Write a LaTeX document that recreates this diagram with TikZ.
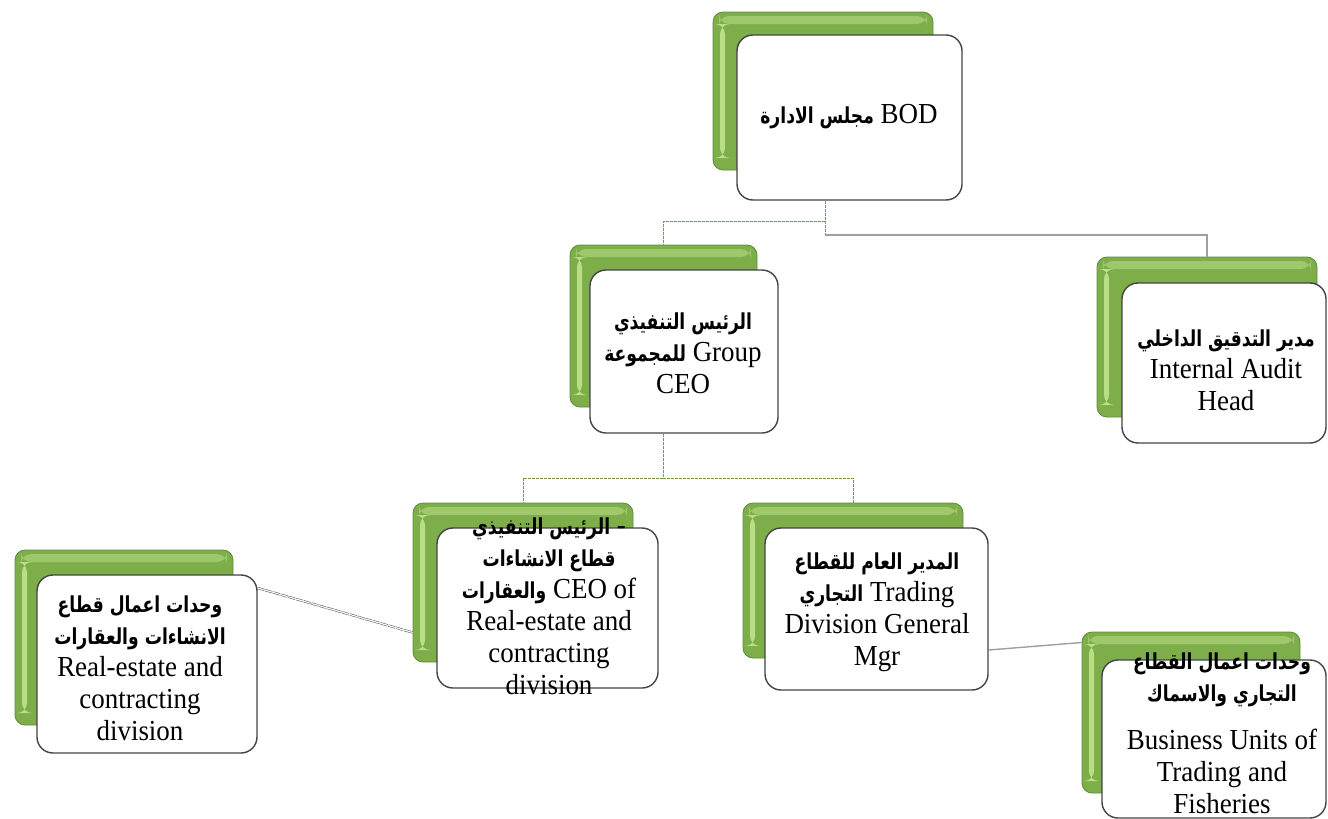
\documentclass[tikz,border=0pt]{standalone}
\usepackage{fontspec}
\setmainfont[FakeStretch=0.93]{Liberation Serif}
\newfontfamily\ar[Script=Arabic,FakeStretch=0.78]{DejaVu Sans}
\TeXXeTstate=1
\newcommand{\AR}[1]{{\ar\bfseries\fontsize{22}{32}\selectfont\beginR #1\endR}}
\newcommand{\latinfont}{\fontsize{29}{32}\selectfont\lineskiplimit=-60pt\lineskip=0pt}
\definecolor{gmain}{HTML}{7DAE4A}
\definecolor{glight}{HTML}{B9DE86}
\definecolor{gdark}{HTML}{5F8C37}
\definecolor{boxline}{HTML}{444444}
\definecolor{lgreen}{HTML}{6FA03C}
\begin{document}
\begin{tikzpicture}[x=1pt,y=-1pt,
  greenbox/.style={draw=gdark, line width=0.8pt, fill=gmain, rounded corners=10pt, inner sep=0pt,
    path picture={
      \fill[glight!55!gmain] ([xshift=6pt,yshift=-4pt]path picture bounding box.north west) rectangle ([xshift=-6pt,yshift=-12pt]path picture bounding box.north east);
      \fill[glight] ([xshift=7pt,yshift=-12pt]path picture bounding box.north west) rectangle ([xshift=12pt,yshift=12pt]path picture bounding box.south west);
    }},
  whitebox/.style={draw=boxline, line width=1.4pt, fill=white, rounded corners=16pt, inner sep=0pt},
  txt/.style={align=center, font=\latinfont, inner sep=0pt, text=black},
  gline/.style={draw=lgreen, line width=0.9pt, dash pattern=on 3pt off 1pt},
  grline/.style={draw=gray!75, line width=1.4pt},
  dline/.style={draw=gray!60!black, line width=0.5pt, double=white, double distance=1.2pt, dash pattern=on 7pt off 1pt}]
\useasboundingbox (0,0) rectangle (1328,819);
\fill[white] (0,0) rectangle (1328,819);

% BOD
\node[greenbox, minimum width=220pt, minimum height=158pt] (bodg) at (823,91) {};
\node[whitebox, minimum width=225pt, minimum height=165pt] (bodw) at (849.5,117.5) {};
\node[txt] (bodt) at (849,117) {\AR{مجلس الادارة} BOD};

% Group CEO
\node[greenbox, minimum width=187pt, minimum height=162pt] (ceog) at (663.5,326) {};
\node[whitebox, minimum width=188pt, minimum height=163pt] (ceow) at (684,351.5) {};
\node[txt] (ceot) at (683,353) {\AR{الرئيس التنفيذي}\\ \AR{للمجموعة} Group\\ CEO};

% Internal Audit
\node[greenbox, minimum width=220pt, minimum height=160pt] (audg) at (1207,337) {};
\node[whitebox, minimum width=204pt, minimum height=160pt] (audw) at (1224,363) {};
\node[txt] (audt) at (1226,370) {\AR{مدير التدقيق الداخلي}\\ Internal Audit\\ Head};

% Real-estate CEO
\node[greenbox, minimum width=220pt, minimum height=159pt] (reg) at (523,582.5) {};
\node[whitebox, minimum width=221pt, minimum height=160pt] (rew) at (547.5,608) {};
\node[txt] (ret) at (549,606) {\AR{الرئيس التنفيذي} -\\ \AR{قطاع الانشاءات}\\ \AR{والعقارات} CEO of\\ Real-estate and\\ contracting\\ division};

% Trading GM
\node[greenbox, minimum width=220pt, minimum height=155pt] (trg) at (853,580.5) {};
\node[whitebox, minimum width=223pt, minimum height=162pt] (trw) at (876.5,609) {};
\node[txt] (trt) at (877,612) {\AR{المدير العام للقطاع}\\ \AR{التجاري} Trading\\ Division General\\ Mgr};

% Left business units
\node[greenbox, minimum width=218pt, minimum height=175pt] (lbg) at (124,637.5) {};
\node[whitebox, minimum width=220pt, minimum height=178pt] (lbw) at (147,664) {};
\node[txt] (lbt) at (140,668) {\AR{وحدات اعمال قطاع}\\ \AR{الانشاءات والعقارات}\\ Real-estate and\\ contracting\\ division};

% Right business units
\node[greenbox, minimum width=218pt, minimum height=161pt] (rbg) at (1191,712.5) {};
\node[whitebox, minimum width=224pt, minimum height=158pt] (rbw) at (1214,739) {};
\node[txt] (rbt) at (1222,733) {\AR{وحدات اعمال القطاع}\\ \AR{التجاري والاسماك}\\[16pt] Business Units of\\ Trading and\\ Fisheries};

% connectors
\coordinate (j1) at (825,221);
\coordinate (j2) at (825,235);
\coordinate (j3) at (663,478);
\draw[gline] ([xshift=-24.5pt]bodw.south) -- (j1);
\draw[gline] (j1) -| (ceog.north);
\draw[gline] (j1) -- (j2);
\draw[grline] (j2) -| (audg.north);
\draw[gline] ([xshift=-21pt]ceow.south) -- (j3);
\draw[gline] (j3) -| (reg.north);
\draw[gline] (j3) -| (trg.north);
\draw[dline] ([yshift=76pt]lbw.east) -- ([yshift=-50pt]reg.west);
\draw[grline] ([yshift=-41pt]trw.east) -- ([yshift=70pt]rbg.west);
\end{tikzpicture}
\end{document}
